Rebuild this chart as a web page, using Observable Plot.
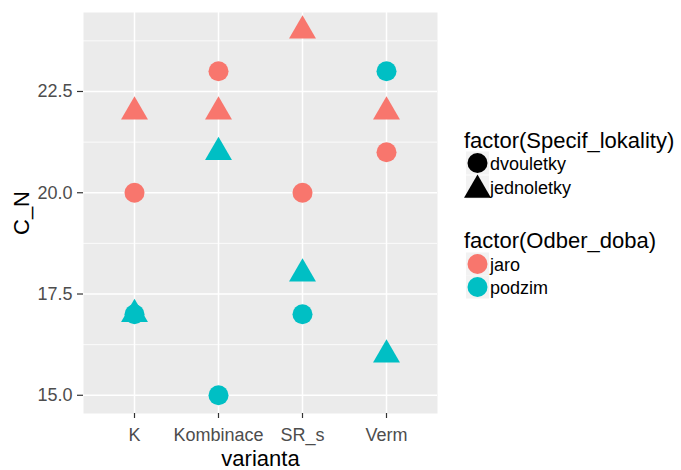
<!DOCTYPE html>
<html>
<head>
<meta charset="utf-8">
<script src="https://cdn.jsdelivr.net/npm/d3@7"></script>
<script src="https://cdn.jsdelivr.net/npm/@observablehq/plot@0.6"></script>
<style>
  html, body { margin: 0; padding: 0; background: #ffffff; }
  #wrap { position: relative; width: 681px; height: 470px; font-family: "Liberation Sans", Arial, sans-serif; }
  #legend { position: absolute; left: 0; top: 0; }
</style>
</head>
<body>
<div id="wrap"></div>
<script>
// ---- data ----
const varianta = ["K", "Kombinace", "SR_s", "Verm"];
const lokality = ["dvouletky", "jednoletky"];
const doby = ["jaro", "podzim"];
const yTicks = [15, 17.5, 20, 22.5];
const yMinor = [16.25, 18.75, 21.25, 23.75];

const pVarianta = ["K", "K", "K", "K",
                   "Kombinace", "Kombinace", "Kombinace", "Kombinace",
                   "SR_s", "SR_s", "SR_s", "SR_s",
                   "Verm", "Verm", "Verm", "Verm"];
const pLokalita = ["jednoletky", "dvouletky", "jednoletky", "dvouletky",
                   "dvouletky", "jednoletky", "jednoletky", "dvouletky",
                   "jednoletky", "dvouletky", "jednoletky", "dvouletky",
                   "dvouletky", "jednoletky", "dvouletky", "jednoletky"];
const pDoba = ["jaro", "jaro", "podzim", "podzim",
               "jaro", "jaro", "podzim", "podzim",
               "jaro", "jaro", "podzim", "podzim",
               "podzim", "jaro", "jaro", "podzim"];
const pCN = [22, 20, 17, 17,
             23, 22, 21, 15,
             24, 20, 18, 17,
             23, 22, 21, 16];

const colors = ["#F8766D", "#00BFC4"];
const shapes = ["circle", "triangle"];

const points = pCN.map((v, i) => ({
  varianta: pVarianta[i], lokalita: pLokalita[i], doba: pDoba[i], C_N: v
}));

const yMin = 15, yMax = 24, pad = (yMax - yMin) * 0.05;

const chart = Plot.plot({
  width: 681,
  height: 470,
  marginLeft: 83,
  marginRight: 244,
  marginTop: 12,
  marginBottom: 57,
  style: { fontFamily: "Liberation Sans, Arial, sans-serif", background: "white", color: "#4D4D4D" },
  x: { type: "point", domain: varianta, padding: 0.6, align: 0.5, label: null },
  y: { domain: [yMin - pad, yMax + pad], label: null },
  color: { domain: doby, range: colors },
  symbol: { domain: lokality, range: shapes },
  marks: [
    Plot.frame({ fill: "#EBEBEB", stroke: null }),
    Plot.ruleY(yMinor, { stroke: "white", strokeWidth: 0.8 }),
    Plot.ruleY(yTicks, { stroke: "white", strokeWidth: 1.5 }),
    Plot.ruleX(varianta, { stroke: "white", strokeWidth: 1.5 }),
    Plot.axisY(yTicks, { tickSize: 6, tickPadding: 5, fontSize: 18, stroke: "#333333", strokeWidth: 1.2, fill: "#4D4D4D", tickFormat: d3.format(".1f"), label: null }),
    Plot.axisX(varianta, { tickSize: 5, tickPadding: 10, fontSize: 18, stroke: "#333333", strokeWidth: 1.2, fill: "#4D4D4D", label: null }),
    Plot.dot(points, { x: "varianta", y: "C_N", symbol: "lokalita", fill: "doba", r: 10, stroke: null }),
    Plot.text(["C_N"], { text: d => d, frameAnchor: "left", dx: -62, rotate: -90, fontSize: 22, fill: "black", textAnchor: "middle", lineAnchor: "middle" }),
    Plot.text(["varianta"], { text: d => d, frameAnchor: "bottom", dy: 45, fontSize: 22, fill: "black", textAnchor: "middle", lineAnchor: "middle" })
  ]
});

const wrap = document.getElementById("wrap");
wrap.appendChild(chart);

// ---- legends (overlay) ----
const svg = d3.select(wrap).append("svg")
  .attr("id", "legend")
  .attr("width", 681).attr("height", 470)
  .style("font-family", "Liberation Sans, Arial, sans-serif");

const symArea = Math.PI * 10 * 10;
function drawLegend(title, titleBaseline, labels, rowCenters, fills, syms) {
  svg.append("text").attr("x", 464).attr("y", titleBaseline)
    .attr("font-size", 22).attr("fill", "black").text(title);
  labels.forEach((lab, i) => {
    const cy = rowCenters[i];
    svg.append("rect").attr("x", 466).attr("y", cy - 11.5).attr("width", 23).attr("height", 23).attr("fill", "#F2F2F2");
    const s = syms[i];
    if (s === "circle") {
      svg.append("circle").attr("cx", 477.5).attr("cy", cy).attr("r", 10).attr("fill", fills[i]);
    } else {
      svg.append("path").attr("transform", `translate(477.5,${cy + 3})`)
        .attr("d", d3.symbol(d3.symbolTriangle, symArea)()).attr("fill", fills[i]);
    }
    svg.append("text").attr("x", 490).attr("y", cy + 7)
      .attr("font-size", 18).attr("fill", "black").text(lab);
  });
}
drawLegend("factor(Specif_lokality)", 148, lokality, [163, 187], ["black", "black"], shapes);
drawLegend("factor(Odber_doba)", 248, doby, [264, 287], colors, ["circle", "circle"]);
</script>
</body>
</html>
